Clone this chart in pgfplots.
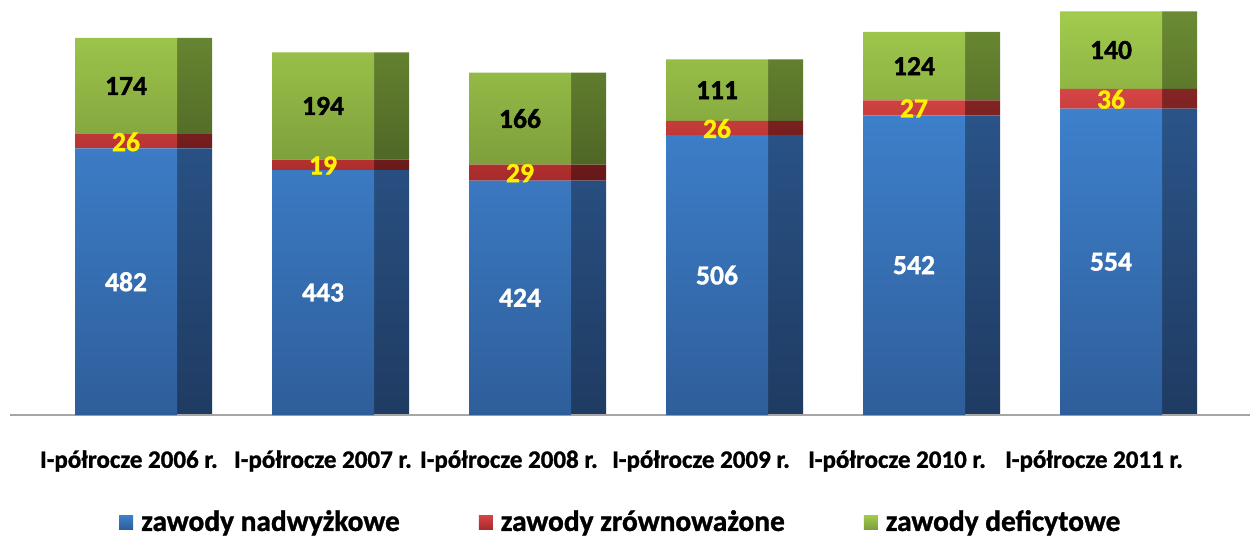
\documentclass[border=0pt]{standalone}
\usepackage{pgfplots}
\pgfplotsset{compat=1.18}
\usepackage{pgfplotstable}
\usepackage{fontspec}
\setmainfont{Carlito}[BoldFeatures={FakeBold=1.2}]

\definecolor{bluetop}{HTML}{3E80CC}
\definecolor{bluebot}{HTML}{2E5E9A}
\definecolor{blueside1}{HTML}{2A5488}
\definecolor{blueside2}{HTML}{1F3B62}
\definecolor{redtop}{HTML}{D64545}
\definecolor{redbot}{HTML}{A82A2A}
\definecolor{redside1}{HTML}{852525}
\definecolor{redside2}{HTML}{661818}
\definecolor{greentop}{HTML}{A2CB4E}
\definecolor{greenbot}{HTML}{7E9F3B}
\definecolor{greenside1}{HTML}{6B8B33}
\definecolor{greenside2}{HTML}{4F6626}

\pgfplotstableread{
x b r g
0 482 26 174
1 443 19 194
2 424 29 166
3 506 26 111
4 542 27 124
5 554 36 140
}\data

\pgfplotsset{common/.style={scale only axis, width=620bp, height=207.5bp,
  xmin=-0.6777, xmax=5.6168, ymin=0, ymax=750.5, clip=false}}

\begin{document}
\begin{tikzpicture}
\useasboundingbox (-5bp,-62bp) rectangle (620bp,207.5bp);
% side faces
\begin{axis}[common, hide axis, ybar stacked, bar width=17.5bp, bar shift=25.5bp]
\addplot[draw=none, top color=blueside1, bottom color=blueside2] table[x=x,y=b]{\data};
\addplot[draw=none, top color=redside1, bottom color=redside2] table[x=x,y=r]{\data};
\addplot[draw=none, top color=greenside1, bottom color=greenside2] table[x=x,y=g]{\data};
\end{axis}
% front faces
\begin{axis}[common, ybar stacked, bar width=51bp, bar shift=-8.75bp,
  axis x line=bottom, axis y line=none,
  axis line style={-, draw=gray!70, line width=1bp},
  xtick={-0.074,0.911,1.855,2.830,3.825,4.825},
  xticklabels={I-półrocze 2006 r.,I-półrocze 2007 r.,I-półrocze 2008 r.,I-półrocze 2009 r.,I-półrocze 2010 r.,I-półrocze 2011 r.},
  xtick style={draw=none}, major tick length=0pt,
  xticklabel style={anchor=center, yshift=-23bp, font=\fontsize{12.5bp}{15bp}\selectfont\bfseries},
  legend columns=3,
  legend style={at={(0.493,-0.258)}, anchor=center, draw=none, fill=none,
    font=\fontsize{14.7bp}{17bp}\selectfont\bfseries,
    /tikz/every odd column/.append style={column sep=2.5bp},
    /tikz/every even column/.append style={column sep=38bp},
    nodes={inner sep=1.5bp}},
  legend image code/.code={\path[#1] (0bp,-3.5bp) rectangle (7bp,3.5bp);},
]
\addplot[draw=none, top color=bluetop, bottom color=bluebot] table[x=x,y=b]{\data};
\addplot[draw=none, top color=redtop, bottom color=redbot] table[x=x,y=r]{\data};
\addplot[draw=none, top color=greentop, bottom color=greenbot] table[x=x,y=g]{\data};
\legend{zawody nadwyżkowe,zawody zrównoważone,zawody deficytowe}
\end{axis}
% labels
\begin{axis}[common, hide axis,
  nodes near coords style={anchor=center, font=\fontsize{13.8bp}{16bp}\selectfont\bfseries}]
\addplot[only marks, mark size=0pt, mark options={draw=none,fill=none}, nodes near coords, point meta=explicit symbolic,
  nodes near coords style={text=white}]
  table[x expr=\thisrow{x}-0.0888, y expr=\thisrow{b}/2, meta=b]{\data};
\addplot[only marks, mark size=0pt, mark options={draw=none,fill=none}, nodes near coords, point meta=explicit symbolic,
  nodes near coords style={text=yellow}]
  table[x expr=\thisrow{x}-0.0888, y expr=\thisrow{b}+\thisrow{r}/2-1, meta=r]{\data};
\addplot[only marks, mark size=0pt, mark options={draw=none,fill=none}, nodes near coords, point meta=explicit symbolic,
  nodes near coords style={text=black}]
  table[x expr=\thisrow{x}-0.0888, y expr=\thisrow{b}+\thisrow{r}+\thisrow{g}/2, meta=g]{\data};
\end{axis}
\end{tikzpicture}
\end{document}
